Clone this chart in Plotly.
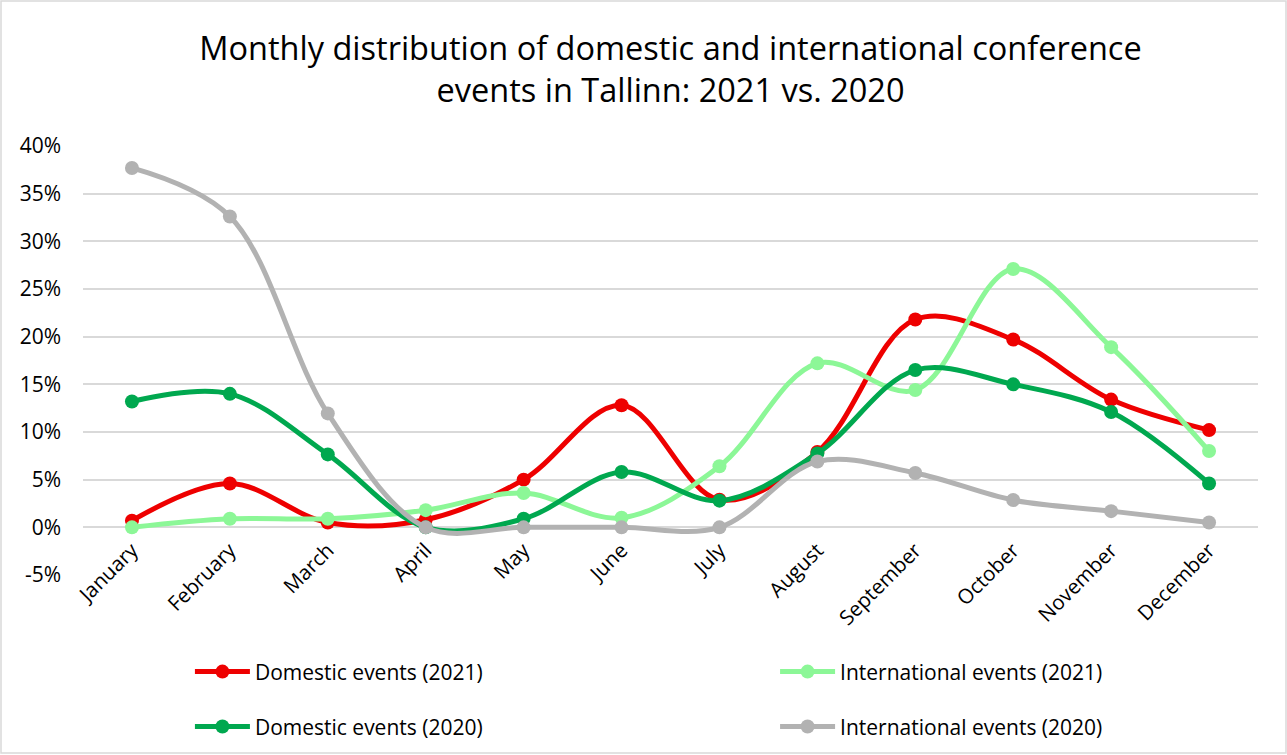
import plotly.graph_objects as go

months = ["January", "February", "March", "April", "May", "June", "July",
          "August", "September", "October", "November", "December"]

domestic_2021 = [0.7, 4.6, 0.5, 0.8, 5.0, 12.8, 2.9, 7.9, 21.8, 19.7, 13.4, 10.2]
international_2021 = [0.0, 0.9, 0.9, 1.8, 3.6, 1.0, 6.4, 17.2, 14.4, 27.1, 18.9, 8.0]
domestic_2020 = [13.2, 14.0, 7.65, 0.0, 0.9, 5.8, 2.8, 7.75, 16.5, 15.0, 12.1, 4.6]
international_2020 = [37.7, 32.6, 11.95, 0.0, 0.0, 0.0, 0.0, 6.9, 5.7, 2.86, 1.7, 0.5]

y_ticks = [-5, 0, 5, 10, 15, 20, 25, 30, 35, 40]
y_tick_labels = ["-5%", "0%", "5%", "10%", "15%", "20%", "25%", "30%", "35%", "40%"]
y_range = [-5, 40]

FONT = "Open Sans, sans-serif"

series = [
    ("Domestic events (2021)", domestic_2021, "#EE0000", "legend"),
    ("International events (2021)", international_2021, "#8CF797", "legend2"),
    ("Domestic events (2020)", domestic_2020, "#00A84F", "legend3"),
    ("International events (2020)", international_2020, "#B2B2B2", "legend4"),
]

fig = go.Figure()
for name, vals, color, leg in series:
    fig.add_trace(go.Scatter(
        x=months, y=vals, name=name, mode="lines+markers",
        line=dict(color=color, width=5, shape="spline", smoothing=1.0),
        marker=dict(color=color, size=14),
        legend=leg,
    ))

def legend_box(x, y):
    return dict(
        orientation="h", x=x, xanchor="left", y=y, yanchor="middle",
        itemwidth=55, font=dict(family=FONT, size=21, color="#000000"),
        bgcolor="rgba(0,0,0,0)",
    )

# category axis crosses the value axis at 0 (Excel style)
zero_pos = (0 - y_range[0]) / (y_range[1] - y_range[0])

fig.update_layout(
    width=1287, height=755,
    paper_bgcolor="white", plot_bgcolor="white",
    font=dict(family=FONT, color="#000000", size=21),
    title=dict(
        text="Monthly distribution of domestic and international conference<br>events in Tallinn: 2021 vs. 2020",
        x=0.5, xanchor="center", xref="paper", yref="container",
        y=1 - 59.5 / 755, yanchor="middle",
        font=dict(family=FONT, size=32.5, color="#000000"),
    ),
    margin=dict(l=83, r=29, t=146, b=180, autoexpand=False),
    showlegend=True,
    legend=legend_box(0.091, -0.226),
    legend2=legend_box(0.589, -0.226),
    legend3=legend_box(0.091, -0.354),
    legend4=legend_box(0.589, -0.354),
    xaxis=dict(
        type="category", categoryorder="array", categoryarray=months,
        range=[-0.5, 11.5], tickangle=-45, showgrid=False, showline=False,
        anchor="free", position=zero_pos, ticklabelstandoff=6,
        ticks="", tickfont=dict(family=FONT, size=20.5),
    ),
    yaxis=dict(
        range=y_range, tickvals=y_ticks, ticktext=y_tick_labels,
        showgrid=True, gridcolor="#D9D9D9", gridwidth=1.5,
        zeroline=True, zerolinecolor="#D9D9D9", zerolinewidth=1.5,
        showline=False, ticks="", ticklabelstandoff=21,
        tickfont=dict(family=FONT, size=21),
    ),
    shapes=[dict(
        type="rect", xref="paper", yref="paper",
        x0=-82 / 1175, x1=1 + 28 / 1175, y0=-178 / 429, y1=1 + 145 / 429,
        line=dict(color="#D9D9D9", width=1.5), fillcolor="rgba(0,0,0,0)",
        layer="below",
    )],
)

fig.write_html("out.html", config={"displayModeBar": False},
               post_script="document.body.style.margin='0px';")
